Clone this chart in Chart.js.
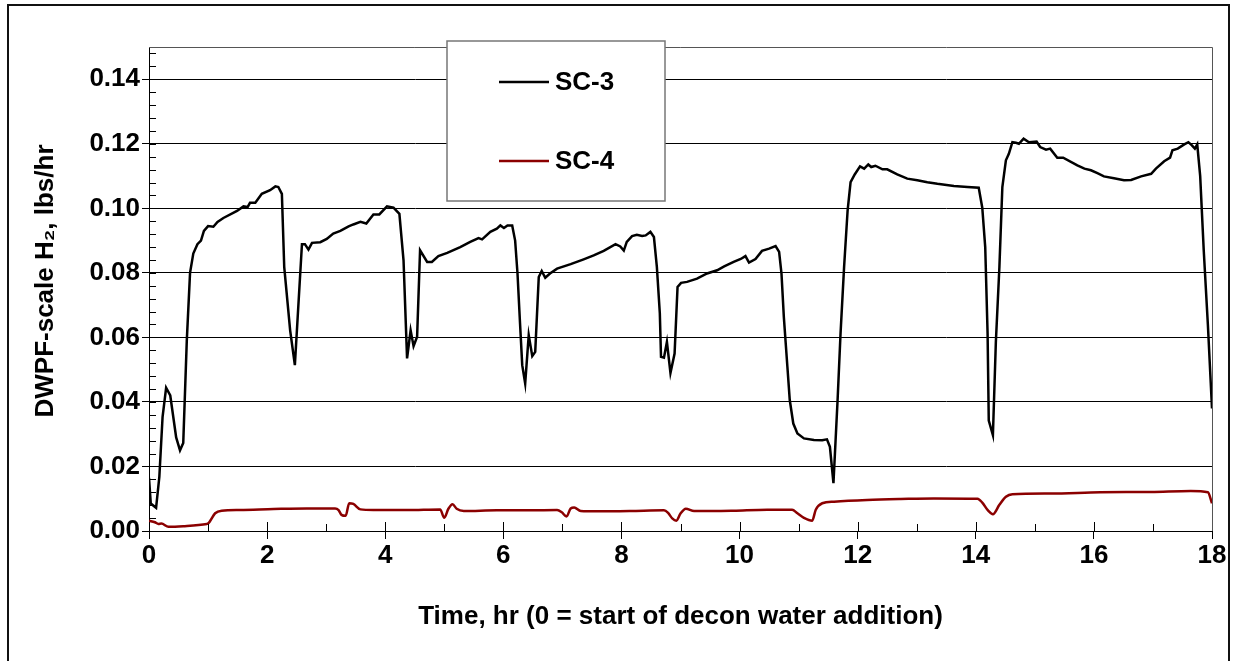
<!DOCTYPE html>
<html>
<head>
<meta charset="utf-8">
<script src="https://cdn.jsdelivr.net/npm/chart.js@4.4.1/dist/chart.umd.min.js"></script>
<style>
  html, body { margin: 0; padding: 0; background: #fff; }
  #wrap { width: 1235px; height: 661px; position: relative; }
</style>
</head>
<body>
<div id="wrap"><canvas id="h2-chart" width="1235" height="661"></canvas></div>
<script>
// SC-3 trace (hours, lbs/hr)
var sc3Time = [0.00, 0.03, 0.12, 0.175, 0.23, 0.29, 0.36, 0.46, 0.525, 0.58, 0.64, 0.695, 0.75, 0.82, 0.88, 0.93,
  1.00, 1.09, 1.16, 1.26, 1.49, 1.60, 1.67, 1.71, 1.80, 1.91, 2.05, 2.14, 2.19, 2.25, 2.29, 2.39, 2.47, 2.59, 2.64,
  2.70, 2.76, 2.90, 3.01, 3.12, 3.24, 3.38, 3.46, 3.58, 3.68, 3.80, 3.90, 4.03, 4.14, 4.24, 4.31, 4.37, 4.43, 4.48,
  4.54, 4.59, 4.71, 4.79, 4.90, 5.05, 5.27, 5.44, 5.58, 5.64, 5.78, 5.89, 5.95, 6.01, 6.07, 6.15, 6.20, 6.24, 6.28,
  6.32, 6.37, 6.43, 6.49, 6.54, 6.60, 6.65, 6.71, 6.79, 6.91, 7.14, 7.36, 7.53, 7.70, 7.90, 7.98, 8.04, 8.09, 8.18,
  8.26, 8.35, 8.41, 8.49, 8.55, 8.60, 8.65, 8.67, 8.72, 8.77, 8.83, 8.90, 8.95, 9.01, 9.11, 9.28, 9.45, 9.62, 9.74,
  9.90, 10.02, 10.10, 10.16, 10.27, 10.38, 10.50, 10.61, 10.67, 10.71, 10.75, 10.81, 10.85, 10.91, 10.98, 11.09,
  11.26, 11.40, 11.48, 11.53, 11.59, 11.66, 11.71, 11.77, 11.83, 11.88, 11.95, 12.04, 12.11, 12.18, 12.23, 12.30,
  12.42, 12.50, 12.67, 12.84, 13.01, 13.18, 13.35, 13.63, 13.86, 14.05, 14.11, 14.16, 14.20, 14.22, 14.29, 14.34,
  14.40, 14.45, 14.51, 14.56, 14.62, 14.68, 14.73, 14.81, 14.90, 15.03, 15.09, 15.19, 15.26, 15.38, 15.48, 15.72,
  15.84, 15.95, 16.06, 16.17, 16.34, 16.51, 16.63, 16.80, 16.97, 17.05, 17.19, 17.29, 17.33, 17.42, 17.53, 17.60,
  17.66, 17.71, 17.75, 17.80, 17.86, 17.93, 18.00];
var sc3Value = [0.0165, 0.0085, 0.0072, 0.0168, 0.0354, 0.0444, 0.0420, 0.0290, 0.0250, 0.0273, 0.0590, 0.0800,
  0.0860, 0.0889, 0.0900, 0.0930, 0.0945, 0.0943, 0.0958, 0.0970, 0.0992, 0.1006, 0.1004, 0.1017, 0.1017, 0.1045,
  0.1056, 0.1068, 0.1066, 0.1045, 0.0818, 0.0622, 0.0514, 0.0889, 0.0889, 0.0872, 0.0893, 0.0895, 0.0905, 0.0922,
  0.0930, 0.0944, 0.0950, 0.0958, 0.0953, 0.0981, 0.0981, 0.1006, 0.1002, 0.0983, 0.0839, 0.0535, 0.0622, 0.0573,
  0.0602, 0.0870, 0.0834, 0.0834, 0.0852, 0.0862, 0.0880, 0.0896, 0.0908, 0.0904, 0.0927, 0.0937, 0.0947, 0.0939,
  0.0947, 0.0947, 0.0900, 0.0798, 0.0653, 0.0514, 0.0457, 0.0607, 0.0542, 0.0555, 0.0787, 0.0806, 0.0785, 0.0798,
  0.0813, 0.0827, 0.0842, 0.0854, 0.0868, 0.0889, 0.0882, 0.0869, 0.0896, 0.0914, 0.0918, 0.0914, 0.0916, 0.0927,
  0.0911, 0.0818, 0.0674, 0.0540, 0.0537, 0.0586, 0.0490, 0.0550, 0.0756, 0.0769, 0.0772, 0.0782, 0.0798, 0.0808,
  0.0820, 0.0834, 0.0843, 0.0852, 0.0832, 0.0843, 0.0868, 0.0875, 0.0883, 0.0865, 0.0798, 0.0663, 0.0509, 0.0406,
  0.0333, 0.0302, 0.0287, 0.0282, 0.0281, 0.0284, 0.0261, 0.0148, 0.0406, 0.0612, 0.0818, 0.0994, 0.1081, 0.1105,
  0.1130, 0.1123, 0.1136, 0.1128, 0.1132, 0.1121, 0.1121, 0.1105, 0.1092, 0.1087, 0.1081, 0.1076, 0.1069, 0.1066,
  0.1064, 0.1002, 0.0880, 0.0612, 0.0342, 0.0297, 0.0586, 0.0818, 0.1066, 0.1149, 0.1169, 0.1205, 0.1203, 0.1200,
  0.1216, 0.1205, 0.1207, 0.1190, 0.1182, 0.1185, 0.1157, 0.1157, 0.1133, 0.1123, 0.1118, 0.1109, 0.1099, 0.1093,
  0.1087, 0.1088, 0.1099, 0.1107, 0.1123, 0.1146, 0.1157, 0.1180, 0.1185, 0.1198, 0.1205, 0.1195, 0.1185, 0.1198,
  0.1100, 0.0870, 0.0640, 0.0380];

// SC-4 trace
var sc4Time = [0.00, 0.10, 0.16, 0.21, 0.33, 0.58, 0.98, 1.00, 1.12, 1.23, 1.54, 2.11, 2.67, 3.15, 3.21, 3.26, 3.33,
  3.39, 3.46, 3.58, 3.80, 4.37, 4.93, 5.00, 5.07, 5.14, 5.21, 5.33, 5.89, 6.46, 6.91, 6.99, 7.07, 7.14, 7.20, 7.31,
  7.59, 8.15, 8.72, 8.79, 8.86, 8.93, 9.00, 9.09, 9.23, 9.56, 9.90, 10.47, 10.89, 10.98, 11.09, 11.23, 11.29, 11.40,
  11.60, 12.16, 12.73, 13.29, 14.03, 14.11, 14.21, 14.29, 14.40, 14.51, 14.62, 15.26, 16.11, 16.97, 17.64, 17.93, 18.00];
var sc4Value = [0.0032, 0.0027, 0.0022, 0.0023, 0.0013, 0.0015, 0.0022, 0.0023, 0.0055, 0.0063, 0.0065, 0.0068,
  0.0070, 0.0070, 0.0065, 0.0050, 0.0047, 0.0086, 0.0084, 0.0067, 0.0065, 0.0065, 0.0067, 0.0041, 0.0069, 0.0083,
  0.0069, 0.0062, 0.0064, 0.0064, 0.0065, 0.0058, 0.0045, 0.0070, 0.0073, 0.0062, 0.0061, 0.0062, 0.0064, 0.0056,
  0.0039, 0.0032, 0.0054, 0.0069, 0.0062, 0.0062, 0.0063, 0.0066, 0.0066, 0.0055, 0.0041, 0.0032, 0.0066, 0.0086,
  0.0091, 0.0096, 0.0099, 0.0101, 0.0100, 0.0088, 0.0063, 0.0052, 0.0081, 0.0106, 0.0114, 0.0116, 0.0120, 0.0121,
  0.0124, 0.0120, 0.0086];

var seriesNames = ['SC-3', 'SC-4'];
var xTicks = [0, 2, 4, 6, 8, 10, 12, 14, 16, 18];
var yTicks = [0, 0.02, 0.04, 0.06, 0.08, 0.10, 0.12, 0.14];
var xTitle = 'Time, hr (0 = start of decon water addition)';
var yTitle = 'DWPF-scale H\u2082, lbs/hr';

var FONT = 'Liberation Sans, Arial, Helvetica, sans-serif';

function toPoints(xs, ys) {
    return xs.map(function(x, i) { return { x: x, y: ys[i] }; });
}

// frame, plot border, minor ticks, axis titles and legend box
var decorPlugin = {
    id: 'decor',
    beforeDraw: function(chart) {
        var ctx = chart.ctx;
        ctx.save();
        ctx.fillStyle = '#fff';
        ctx.fillRect(0, 0, chart.width, chart.height);
        ctx.strokeStyle = '#111';
        ctx.lineWidth = 2;
        ctx.strokeRect(8, 5, 1221, 670);
        ctx.restore();
    },
    afterDatasetsDraw: function(chart) {
        var ctx = chart.ctx;
        var a = chart.chartArea;
        var xs = chart.scales.x, ys = chart.scales.y;
        ctx.save();

        // top and right edges of the plot area
        ctx.strokeStyle = '#555';
        ctx.lineWidth = 1;
        ctx.beginPath();
        ctx.moveTo(a.left, a.top + 0.5);
        ctx.lineTo(a.right + 0.5, a.top + 0.5);
        ctx.lineTo(a.right + 0.5, a.bottom);
        ctx.stroke();

        // minor ticks
        ctx.strokeStyle = '#000';
        ctx.beginPath();
        for (var v = 0.004; v < 0.15; v += 0.004) {
            var py = Math.round(ys.getPixelForValue(v)) + 0.5;
            ctx.moveTo(a.left, py);
            ctx.lineTo(a.left + 7, py);
        }
        for (var t = 1; t < 18; t++) {
            var px = Math.round(xs.getPixelForValue(t)) + 0.5;
            var len = (t % 2 === 0) ? 9 : 7;
            ctx.moveTo(px, a.bottom);
            ctx.lineTo(px, a.bottom - len);
        }
        ctx.stroke();

        // axis titles
        ctx.fillStyle = '#000';
        ctx.textAlign = 'center';
        ctx.textBaseline = 'middle';
        ctx.font = 'bold 26px ' + FONT;
        ctx.fillText(xTitle, (a.left + a.right) / 2, 617);
        ctx.save();
        ctx.translate(46, 281);
        ctx.rotate(-Math.PI / 2);
        ctx.font = 'bold 26px ' + FONT;
        ctx.fillText(yTitle, 0, 0);
        ctx.restore();

        // legend box
        var bx = 447, by = 41, bw = 218, bh = 160;
        ctx.fillStyle = '#fff';
        ctx.fillRect(bx, by, bw, bh);
        ctx.strokeStyle = '#777';
        ctx.lineWidth = 1.5;
        ctx.strokeRect(bx, by, bw, bh);
        var rows = [82, 161];
        chart.data.datasets.forEach(function(ds, i) {
            ctx.strokeStyle = ds.borderColor;
            ctx.lineWidth = ds.borderWidth;
            ctx.beginPath();
            ctx.moveTo(499, rows[i]);
            ctx.lineTo(549, rows[i]);
            ctx.stroke();
            ctx.fillStyle = '#000';
            ctx.font = 'bold 26px ' + FONT;
            ctx.textBaseline = 'middle';
            ctx.textAlign = 'left';
            ctx.fillText(ds.label, 555, rows[i] + 1);
        });
        ctx.restore();
    }
};

var ctx = document.getElementById('h2-chart').getContext('2d');

var h2Chart = new Chart(ctx, {
    type: 'scatter',
    data: {
        datasets: [
            {
                label: seriesNames[0],
                data: toPoints(sc3Time, sc3Value),
                showLine: true,
                borderColor: '#000000',
                borderWidth: 2.5,
                pointRadius: 0,
                tension: 0
            },
            {
                label: seriesNames[1],
                data: toPoints(sc4Time, sc4Value),
                showLine: true,
                borderColor: '#8b0000',
                borderWidth: 2.5,
                pointRadius: 0,
                tension: 0.3,
                cubicInterpolationMode: 'monotone'
            }
        ]
    },
    options: {
        responsive: false,
        animation: false,
        layout: { padding: { left: 9, top: 47, right: 23, bottom: 0 } },
        plugins: {
            legend: { display: false },
            tooltip: { enabled: false }
        },
        scales: {
            x: {
                type: 'linear',
                min: 0,
                max: 18,
                afterFit: function(scale) { scale.height = 130; },
                afterBuildTicks: function(scale) {
                    scale.ticks = xTicks.map(function(v) { return { value: v }; });
                },
                ticks: {
                    color: '#000',
                    padding: 1,
                    maxRotation: 0,
                    font: { family: FONT, size: 26, weight: 'bold' },
                    callback: function(v) { return String(v); }
                },
                grid: {
                    drawOnChartArea: false,
                    drawTicks: true,
                    tickLength: 8,
                    tickColor: '#000'
                },
                border: { display: true, color: '#000', width: 1 },
                title: { display: false }
            },
            y: {
                type: 'linear',
                min: 0,
                max: 0.15,
                afterFit: function(scale) { scale.width = 140; },
                afterBuildTicks: function(scale) {
                    scale.ticks = yTicks.map(function(v) { return { value: v }; });
                },
                ticks: {
                    color: '#000',
                    padding: 2,
                    font: { family: FONT, size: 26, weight: 'bold' },
                    callback: function(v) { return v.toFixed(2); }
                },
                grid: {
                    color: '#000',
                    lineWidth: 1,
                    drawTicks: true,
                    tickLength: 7,
                    tickColor: '#000'
                },
                border: { display: true, color: '#000', width: 1 },
                title: { display: false }
            }
        }
    },
    plugins: [decorPlugin]
});
</script>
</body>
</html>
